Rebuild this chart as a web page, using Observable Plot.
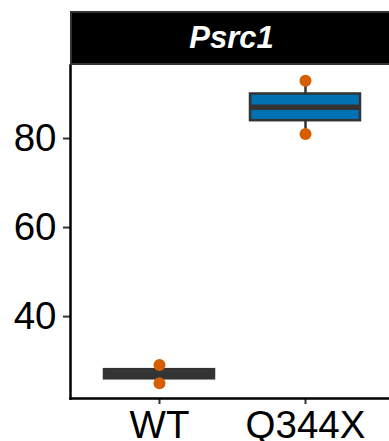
<!DOCTYPE html>
<html>
<head>
<meta charset="utf-8">
<script src="https://cdn.jsdelivr.net/npm/d3@7"></script>
<script src="https://cdn.jsdelivr.net/npm/@observablehq/plot@0.6"></script>
<style>
  html, body { margin: 0; padding: 0; background: #fff; }
  body { width: 389px; height: 441px; overflow: hidden; position: relative;
         font-family: "Liberation Sans", Arial, sans-serif; }
  #chart { position: absolute; left: 0; top: 0; }
  #strip { position: absolute; left: 70px; top: 11px; width: 323px; height: 54px;
           box-sizing: border-box; background: #000; border: 2.5px solid #333;
           color: #fff; font: italic bold 31px "Liberation Sans", Arial, sans-serif;
           display: flex; align-items: center; justify-content: center; }
</style>
</head>
<body>
<div id="chart"></div>
<div id="strip"></div>
<script>
const gene = "Psrc1";
const groups = ["WT", "Q344X"];
const wtValues = [25.0, 29.1];
const q344xValues = [81.0, 93.0];
const groupFill = ["#3a3a3a", "#0072B2"];
const yTicks = [40, 60, 80];

const points = [
  ...wtValues.map(v => ({group: "WT", value: v})),
  ...q344xValues.map(v => ({group: "Q344X", value: v}))
];
const valuesByGroup = {WT: wtValues, Q344X: q344xValues};
const summary = groups.map((g, i) => {
  const v = valuesByGroup[g].slice().sort(d3.ascending);
  return {
    group: g,
    fill: groupFill[i],
    min: d3.min(v),
    q1: d3.quantile(v, 0.25),
    median: d3.quantile(v, 0.5),
    q3: d3.quantile(v, 0.75),
    max: d3.max(v)
  };
});

const allVals = points.map(d => d.value);
const lo = d3.min(allVals), hi = d3.max(allVals), pad = (hi - lo) * 0.05;

const plot = Plot.plot({
  width: 389,
  height: 441,
  marginTop: 65,
  marginBottom: 43,
  marginLeft: 70,
  marginRight: 0,
  style: {fontFamily: "Liberation Sans, Arial, sans-serif", background: "transparent", overflow: "visible"},
  x: {domain: groups, range: [70, 393], paddingInner: 0.25, paddingOuter: 0.225, align: 0.5, label: null},
  y: {domain: [lo - pad, hi + pad], label: null},
  marks: [
    Plot.axisY({ticks: yTicks, tickSize: 7, tickPadding: 7, fontSize: 38.5, stroke: "#333", strokeWidth: 2, color: "#000", label: null}),
    Plot.axisX({tickSize: 6, tickPadding: 6.5, fontSize: 38.5, stroke: "#333", strokeWidth: 2, color: "#000", label: null}),
    Plot.ruleX(summary, {x: "group", y1: "min", y2: "max", stroke: "#333", strokeWidth: 2.5}),
    Plot.barY(summary, {x: "group", y1: "q1", y2: "q3", fill: "fill", stroke: "#333", strokeWidth: 2.5}),
    Plot.tickY(summary, {x: "group", y: "median", stroke: "#333", strokeWidth: 5.5}),
    Plot.dot(points, {x: "group", y: "value", r: 6, fill: "#D55E00", stroke: "none"}),
    Plot.frame({anchor: "left", stroke: "#000", strokeWidth: 2.5}),
    Plot.frame({anchor: "bottom", stroke: "#000", strokeWidth: 2.5})
  ]
});
document.getElementById("chart").appendChild(plot);
document.getElementById("strip").textContent = gene;
</script>
</body>
</html>
